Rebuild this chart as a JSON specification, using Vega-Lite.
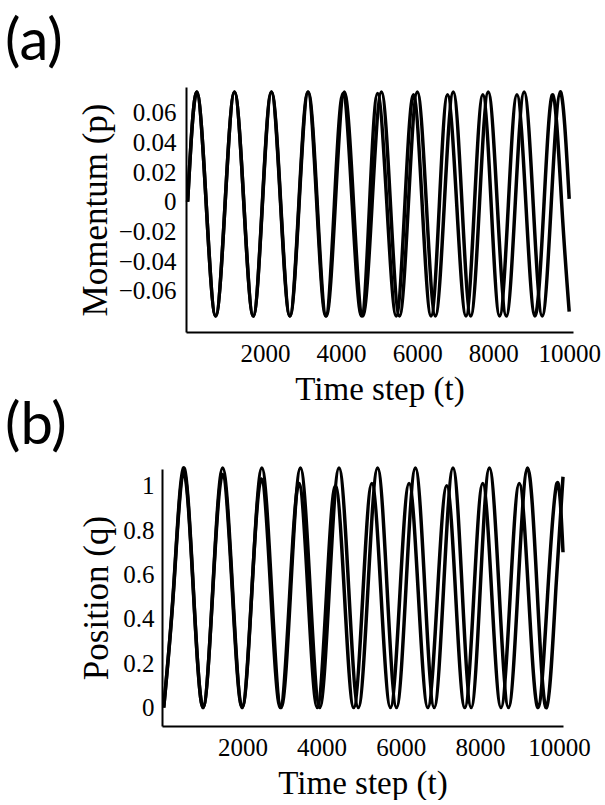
{
  "$schema": "https://vega.github.io/schema/vega-lite/v6.json",
  "background": "white",
  "padding": {"left": 5, "top": 13, "right": 0, "bottom": 0},
  "spacing": -9,
  "datasets": {
    "a": [
      {"curve": "B", "t": -37, "p": 0},
      {"curve": "B", "t": 203, "p": 0.074},
      {"curve": "B", "t": 452, "p": -0.0015},
      {"curve": "B", "t": 700, "p": -0.077},
      {"curve": "B", "t": 948, "p": -0.0015},
      {"curve": "B", "t": 1195, "p": 0.074},
      {"curve": "B", "t": 1443, "p": -0.0015},
      {"curve": "B", "t": 1690, "p": -0.077},
      {"curve": "B", "t": 1930, "p": -0.0015},
      {"curve": "B", "t": 2170, "p": 0.074},
      {"curve": "B", "t": 2413, "p": -0.0015},
      {"curve": "B", "t": 2655, "p": -0.077},
      {"curve": "B", "t": 2895, "p": -0.0015},
      {"curve": "B", "t": 3135, "p": 0.074},
      {"curve": "B", "t": 3373, "p": -0.0015},
      {"curve": "B", "t": 3610, "p": -0.077},
      {"curve": "B", "t": 3848, "p": -0.0015},
      {"curve": "B", "t": 4085, "p": 0.074},
      {"curve": "B", "t": 4328, "p": -0.0015},
      {"curve": "B", "t": 4570, "p": -0.077},
      {"curve": "B", "t": 4815, "p": -0.0015},
      {"curve": "B", "t": 5060, "p": 0.074},
      {"curve": "B", "t": 5298, "p": -0.0015},
      {"curve": "B", "t": 5535, "p": -0.077},
      {"curve": "B", "t": 5770, "p": -0.0015},
      {"curve": "B", "t": 6005, "p": 0.074},
      {"curve": "B", "t": 6243, "p": -0.0015},
      {"curve": "B", "t": 6480, "p": -0.077},
      {"curve": "B", "t": 6715, "p": -0.0015},
      {"curve": "B", "t": 6950, "p": 0.074},
      {"curve": "B", "t": 7180, "p": -0.0015},
      {"curve": "B", "t": 7410, "p": -0.077},
      {"curve": "B", "t": 7640, "p": -0.0015},
      {"curve": "B", "t": 7870, "p": 0.074},
      {"curve": "B", "t": 8108, "p": -0.0015},
      {"curve": "B", "t": 8345, "p": -0.077},
      {"curve": "B", "t": 8580, "p": -0.0015},
      {"curve": "B", "t": 8815, "p": 0.074},
      {"curve": "B", "t": 9053, "p": -0.0015},
      {"curve": "B", "t": 9290, "p": -0.077},
      {"curve": "B", "t": 9527, "p": -0.0015},
      {"curve": "B", "t": 9763, "p": 0.074},
      {"curve": "B", "t": 10000, "p": 0.002},
      {"curve": "A", "t": -37, "p": 0},
      {"curve": "A", "t": 203, "p": 0.074},
      {"curve": "A", "t": 452, "p": -0.0015},
      {"curve": "A", "t": 700, "p": -0.077},
      {"curve": "A", "t": 948, "p": -0.0015},
      {"curve": "A", "t": 1195, "p": 0.074},
      {"curve": "A", "t": 1442, "p": -0.0015},
      {"curve": "A", "t": 1688, "p": -0.077},
      {"curve": "A", "t": 1927, "p": -0.0015},
      {"curve": "A", "t": 2165, "p": 0.074},
      {"curve": "A", "t": 2408, "p": -0.0015},
      {"curve": "A", "t": 2650, "p": -0.077},
      {"curve": "A", "t": 2888, "p": -0.0015},
      {"curve": "A", "t": 3125, "p": 0.074},
      {"curve": "A", "t": 3360, "p": -0.0015},
      {"curve": "A", "t": 3595, "p": -0.077},
      {"curve": "A", "t": 3823, "p": -0.0015},
      {"curve": "A", "t": 4050, "p": 0.073},
      {"curve": "A", "t": 4293, "p": -0.002},
      {"curve": "A", "t": 4535, "p": -0.077},
      {"curve": "A", "t": 4748, "p": -0.002},
      {"curve": "A", "t": 4960, "p": 0.073},
      {"curve": "A", "t": 5205, "p": -0.002},
      {"curve": "A", "t": 5450, "p": -0.077},
      {"curve": "A", "t": 5677, "p": -0.002},
      {"curve": "A", "t": 5903, "p": 0.072},
      {"curve": "A", "t": 6134, "p": -0.0025},
      {"curve": "A", "t": 6365, "p": -0.077},
      {"curve": "A", "t": 6583, "p": -0.0025},
      {"curve": "A", "t": 6800, "p": 0.072},
      {"curve": "A", "t": 7043, "p": -0.0025},
      {"curve": "A", "t": 7285, "p": -0.077},
      {"curve": "A", "t": 7507, "p": -0.0025},
      {"curve": "A", "t": 7728, "p": 0.072},
      {"curve": "A", "t": 7949, "p": -0.0025},
      {"curve": "A", "t": 8170, "p": -0.077},
      {"curve": "A", "t": 8398, "p": -0.0025},
      {"curve": "A", "t": 8625, "p": 0.072},
      {"curve": "A", "t": 8863, "p": -0.0025},
      {"curve": "A", "t": 9100, "p": -0.077},
      {"curve": "A", "t": 9335, "p": -0.0025},
      {"curve": "A", "t": 9570, "p": 0.072},
      {"curve": "A", "t": 9805, "p": -0.0025},
      {"curve": "A", "t": 10000, "p": -0.074}
    ],
    "b": [
      {"curve": "B", "t": 10, "q": 0.0},
      {"curve": "B", "t": 260, "q": 0.54},
      {"curve": "B", "t": 511, "q": 1.08},
      {"curve": "B", "t": 758, "q": 0.54},
      {"curve": "B", "t": 1005, "q": 0.0},
      {"curve": "B", "t": 1252, "q": 0.54},
      {"curve": "B", "t": 1500, "q": 1.08},
      {"curve": "B", "t": 1748, "q": 0.54},
      {"curve": "B", "t": 1995, "q": 0.0},
      {"curve": "B", "t": 2243, "q": 0.54},
      {"curve": "B", "t": 2490, "q": 1.08},
      {"curve": "B", "t": 2734, "q": 0.54},
      {"curve": "B", "t": 2978, "q": 0.0},
      {"curve": "B", "t": 3222, "q": 0.54},
      {"curve": "B", "t": 3465, "q": 1.08},
      {"curve": "B", "t": 3709, "q": 0.54},
      {"curve": "B", "t": 3953, "q": 0.0},
      {"curve": "B", "t": 4197, "q": 0.54},
      {"curve": "B", "t": 4440, "q": 1.08},
      {"curve": "B", "t": 4684, "q": 0.54},
      {"curve": "B", "t": 4928, "q": 0.0},
      {"curve": "B", "t": 5172, "q": 0.54},
      {"curve": "B", "t": 5415, "q": 1.08},
      {"curve": "B", "t": 5654, "q": 0.54},
      {"curve": "B", "t": 5893, "q": 0.0},
      {"curve": "B", "t": 6132, "q": 0.54},
      {"curve": "B", "t": 6370, "q": 1.08},
      {"curve": "B", "t": 6608, "q": 0.54},
      {"curve": "B", "t": 6845, "q": 0.0},
      {"curve": "B", "t": 7083, "q": 0.54},
      {"curve": "B", "t": 7320, "q": 1.08},
      {"curve": "B", "t": 7550, "q": 0.54},
      {"curve": "B", "t": 7780, "q": 0.0},
      {"curve": "B", "t": 8010, "q": 0.54},
      {"curve": "B", "t": 8240, "q": 1.08},
      {"curve": "B", "t": 8482, "q": 0.54},
      {"curve": "B", "t": 8723, "q": 0.0},
      {"curve": "B", "t": 8964, "q": 0.54},
      {"curve": "B", "t": 9205, "q": 1.08},
      {"curve": "B", "t": 9444, "q": 0.54},
      {"curve": "B", "t": 9683, "q": 0.0},
      {"curve": "B", "t": 9922, "q": 0.54},
      {"curve": "B", "t": 10100, "q": 1.04},
      {"curve": "A", "t": 10, "q": 0.0},
      {"curve": "A", "t": 260, "q": 0.53},
      {"curve": "A", "t": 511, "q": 1.06},
      {"curve": "A", "t": 758, "q": 0.53},
      {"curve": "A", "t": 1005, "q": 0.0},
      {"curve": "A", "t": 1252, "q": 0.53},
      {"curve": "A", "t": 1500, "q": 1.05},
      {"curve": "A", "t": 1745, "q": 0.52},
      {"curve": "A", "t": 1990, "q": 0.0},
      {"curve": "A", "t": 2235, "q": 0.52},
      {"curve": "A", "t": 2480, "q": 1.03},
      {"curve": "A", "t": 2718, "q": 0.51},
      {"curve": "A", "t": 2955, "q": 0.0},
      {"curve": "A", "t": 3193, "q": 0.51},
      {"curve": "A", "t": 3430, "q": 1.01},
      {"curve": "A", "t": 3660, "q": 0.5},
      {"curve": "A", "t": 3890, "q": 0.0},
      {"curve": "A", "t": 4120, "q": 0.5},
      {"curve": "A", "t": 4350, "q": 1.0},
      {"curve": "A", "t": 4580, "q": 0.5},
      {"curve": "A", "t": 4810, "q": 0.0},
      {"curve": "A", "t": 5040, "q": 0.5},
      {"curve": "A", "t": 5270, "q": 1.01},
      {"curve": "A", "t": 5505, "q": 0.5},
      {"curve": "A", "t": 5740, "q": 0.0},
      {"curve": "A", "t": 5975, "q": 0.5},
      {"curve": "A", "t": 6210, "q": 1.01},
      {"curve": "A", "t": 6448, "q": 0.5},
      {"curve": "A", "t": 6686, "q": 0.0},
      {"curve": "A", "t": 6924, "q": 0.5},
      {"curve": "A", "t": 7162, "q": 1.0},
      {"curve": "A", "t": 7390, "q": 0.5},
      {"curve": "A", "t": 7617, "q": 0.0},
      {"curve": "A", "t": 7845, "q": 0.5},
      {"curve": "A", "t": 8072, "q": 1.01},
      {"curve": "A", "t": 8303, "q": 0.5},
      {"curve": "A", "t": 8533, "q": 0.0},
      {"curve": "A", "t": 8764, "q": 0.5},
      {"curve": "A", "t": 8995, "q": 1.01},
      {"curve": "A", "t": 9233, "q": 0.5},
      {"curve": "A", "t": 9470, "q": 0.0},
      {"curve": "A", "t": 9708, "q": 0.5},
      {"curve": "A", "t": 9945, "q": 1.01},
      {"curve": "A", "t": 10100, "q": 0.7}
    ]
  },
  "vconcat": [
    {
      "title": {"text": "(a)", "dx": -157, "offset": 13},
      "width": 411,
      "height": 245,
      "data": {"name": "a"},
      "mark": {"type": "line", "interpolate": "natural", "color": "black", "strokeWidth": 3.5},
      "encoding": {
        "x": {
          "field": "t", "type": "quantitative",
          "scale": {"domain": [-80, 10100], "range": [24, 411], "nice": false, "zero": false},
          "axis": {"values": [2000, 4000, 6000, 8000, 10000], "format": "d", "title": "Time step (t)", "labelPadding": 9, "titlePadding": 7}
        },
        "y": {
          "field": "p", "type": "quantitative",
          "scale": {"domain": [-0.0877, 0.0773], "nice": false, "zero": false},
          "axis": {"values": [-0.06, -0.04, -0.02, 0, 0.02, 0.04, 0.06], "format": "~g", "title": "Momentum (p)", "labelPadding": 10, "titlePadding": 5, "offset": -24}
        },
        "detail": {"field": "curve"}
      }
    },
    {
      "title": {"text": "(b)", "dx": -157, "offset": 5},
      "width": 401,
      "height": 257,
      "data": {"name": "b"},
      "mark": {"type": "line", "interpolate": "natural", "color": "black", "strokeWidth": 3.5},
      "encoding": {
        "x": {
          "field": "t", "type": "quantitative",
          "scale": {"domain": [-33, 10100], "nice": false, "zero": false},
          "axis": {"values": [2000, 4000, 6000, 8000, 10000], "format": "d", "title": "Time step (t)", "labelPadding": 9, "titlePadding": 7}
        },
        "y": {
          "field": "q", "type": "quantitative",
          "scale": {"domain": [-0.083, 1.075], "nice": false, "zero": false},
          "axis": {"values": [0, 0.2, 0.4, 0.6, 0.8, 1], "format": "~g", "title": "Position (q)", "labelPadding": 8, "titlePadding": 8}
        },
        "detail": {"field": "curve"}
      }
    }
  ],
  "config": {
    "view": {"stroke": null},
    "axis": {
      "grid": false,
      "ticks": false,
      "domainColor": "black",
      "domainWidth": 2,
      "labelFont": "Liberation Serif",
      "labelFontSize": 25,
      "labelColor": "black",
      "titleFont": "Liberation Serif",
      "titleFontSize": 35,
      "titleFontWeight": "normal",
      "titleColor": "black"
    },
    "axisX": {"titleFontSize": 33},
    "title": {
      "font": "Lato",
      "fontSize": 58,
      "fontWeight": "normal",
      "color": "black",
      "anchor": "start",
      "frame": "group"
    }
  }
}
